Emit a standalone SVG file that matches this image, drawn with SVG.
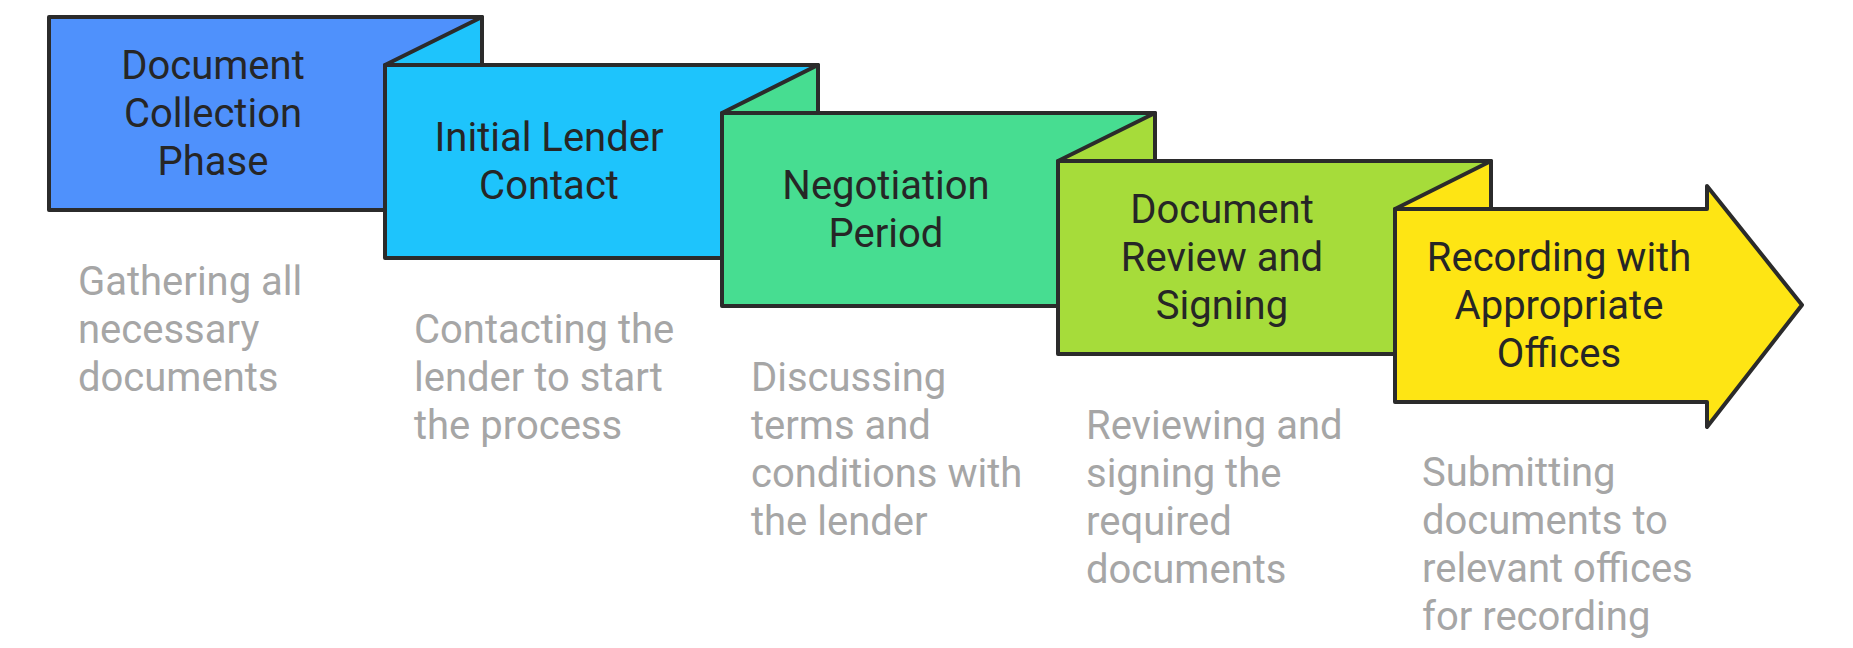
<svg xmlns="http://www.w3.org/2000/svg" width="1853" height="648" viewBox="0 0 1853 648">
<style>
.s{stroke:#2b2b2b;stroke-width:4;stroke-linejoin:round}
.t{font-family:Roboto,"Liberation Sans",sans-serif;font-size:40px;fill:#262626;text-anchor:middle}
.d{font-family:Roboto,"Liberation Sans",sans-serif;font-size:40px;fill:#a6a6a6}
.c1{fill:#4f91fc}.c2{fill:#1ec4fc}.c3{fill:#47dd91}.c4{fill:#a6dc3a}.c5{fill:#fee514}
</style>
<rect width="1853" height="648" fill="#ffffff"/>
<g id="connectors"></g>
<g id="node1">
<rect class="s c1" x="49" y="17" width="433" height="193"/>
<text class="t"><tspan x="213" y="79">Document</tspan><tspan x="213" y="127">Collection</tspan><tspan x="213" y="175">Phase</tspan></text>
<text class="d"><tspan x="78" y="295">Gathering all</tspan><tspan x="78" y="343">necessary</tspan><tspan x="78" y="391">documents</tspan></text>
</g>
<g id="node2">
<polygon class="s c2" points="385,65 482,17 482,65"/>
<rect class="s c2" x="385" y="65" width="433" height="193"/>
<text class="t"><tspan x="549" y="151">Initial Lender</tspan><tspan x="549" y="199">Contact</tspan></text>
<text class="d"><tspan x="414" y="343">Contacting the</tspan><tspan x="414" y="391">lender to start</tspan><tspan x="414" y="439">the process</tspan></text>
</g>
<g id="node3">
<polygon class="s c3" points="722,113 818,65 818,113"/>
<rect class="s c3" x="722" y="113" width="433" height="193"/>
<text class="t"><tspan x="886" y="199">Negotiation</tspan><tspan x="886" y="247">Period</tspan></text>
<text class="d"><tspan x="751" y="391">Discussing</tspan><tspan x="751" y="439">terms and</tspan><tspan x="751" y="487">conditions with</tspan><tspan x="751" y="535">the lender</tspan></text>
</g>
<g id="node4">
<polygon class="s c4" points="1058,161 1155,113 1155,161"/>
<rect class="s c4" x="1058" y="161" width="433" height="193"/>
<text class="t"><tspan x="1222" y="223">Document</tspan><tspan x="1222" y="271">Review and</tspan><tspan x="1222" y="319">Signing</tspan></text>
<text class="d"><tspan x="1086" y="439">Reviewing and</tspan><tspan x="1086" y="487">signing the</tspan><tspan x="1086" y="535">required</tspan><tspan x="1086" y="583">documents</tspan></text>
</g>
<g id="node5">
<polygon class="s c5" points="1395,209 1491,161 1491,209"/>
<polygon class="s c5" points="1395,209 1707,209 1707,186 1802,305 1707,427 1707,402 1395,402"/>
<text class="t"><tspan x="1559" y="271">Recording with</tspan><tspan x="1559" y="319">Appropriate</tspan><tspan x="1559" y="367">Offices</tspan></text>
<text class="d"><tspan x="1422" y="486">Submitting</tspan><tspan x="1422" y="534">documents to</tspan><tspan x="1422" y="582">relevant offices</tspan><tspan x="1422" y="630">for recording</tspan></text>
</g>
</svg>
